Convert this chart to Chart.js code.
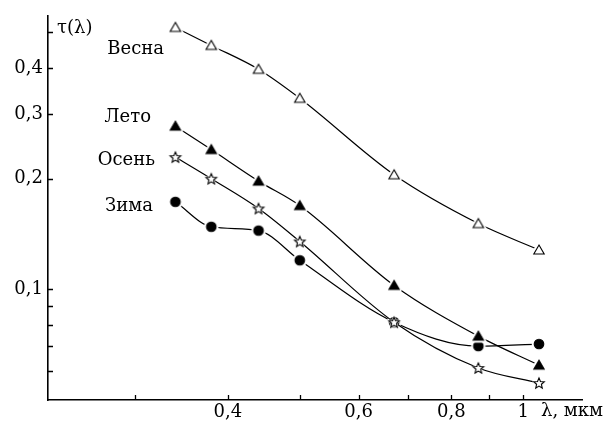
<!DOCTYPE html>
<html>
<head>
<meta charset="utf-8">
<script src="https://cdn.jsdelivr.net/npm/chart.js@4.4.1/dist/chart.umd.min.js"></script>
<style>
    html, body { margin: 0; padding: 0; background: #fff; }
    #wrap { width: 610px; height: 427px; position: relative; }
</style>
</head>
<body>
<div id="wrap"><canvas id="chart"></canvas></div>
<script>
// Данные графика
const wavelengths = [0.34, 0.38, 0.44, 0.50, 0.67, 0.87, 1.05];
const spring = [0.516, 0.461, 0.397, 0.331, 0.205, 0.151, 0.128];
const summer = [0.278, 0.240, 0.197, 0.169, 0.1025, 0.0746, 0.0622];
const autumn = [0.229, 0.200, 0.166, 0.135, 0.0814, 0.0611, 0.0556];
const winter = [0.173, 0.148, 0.1445, 0.120, 0.0814, 0.0701, 0.0710];

const xTicks = [0.3, 0.4, 0.5, 0.6, 0.7, 0.8, 0.9, 1.0];
const xLabels = { 0.4: '0,4', 0.6: '0,6', 0.8: '0,8', 1: '1' };
const yTicks = [0.06, 0.07, 0.08, 0.09, 0.1, 0.2, 0.3, 0.4, 0.5];
const yLabels = { 0.1: '0,1', 0.2: '0,2', 0.3: '0,3', 0.4: '0,4' };

const seriesNames = ['Весна', 'Лето', 'Осень', 'Зима'];

const FONT = '"DejaVu Serif", serif';

function toPoints(values) {
    return values.map((v, i) => ({ x: wavelengths[i], y: v }));
}

// Маркер на отдельном canvas, с белым ореолом (разрыв линии у точки)
function makeMarker(shape, filled, halo) {
    const size = 20;
    const c = document.createElement('canvas');
    c.width = size;
    c.height = size;
    const g = c.getContext('2d');
    const cx = size / 2, cy = size / 2;

    g.beginPath();
    if (shape === 'triangle') {
        const R = 6;
        const cy2 = cy + 1;
        for (let i = 0; i < 3; i++) {
            const a = -Math.PI / 2 + i * 2 * Math.PI / 3;
            g.lineTo(cx + R * Math.cos(a), cy2 + R * Math.sin(a));
        }
    } else if (shape === 'star') {
        const R = 5.6, r = R * 0.45;
        for (let i = 0; i < 10; i++) {
            const a = -Math.PI / 2 + i * Math.PI / 5;
            const rr = i % 2 ? r : R;
            g.lineTo(cx + rr * Math.cos(a), cy + 0.5 + rr * Math.sin(a));
        }
    } else {
        g.arc(cx, cy, 4.8, 0, Math.PI * 2);
    }
    g.closePath();

    // ореол
    g.lineJoin = 'round';
    g.strokeStyle = '#fff';
    g.lineWidth = halo;
    g.stroke();

    g.fillStyle = filled ? '#000' : '#fff';
    g.fill();
    g.lineJoin = 'miter';
    g.strokeStyle = '#000';
    g.lineWidth = 1.1;
    g.stroke();
    return c;
}

// Засечки внутрь и подписи
const decorPlugin = {
    id: 'decor',
    afterDraw(chart) {
        const ctx = chart.ctx;
        const xs = chart.scales.x, ys = chart.scales.y;
        const area = chart.chartArea;
        ctx.save();
        ctx.strokeStyle = '#000';
        ctx.lineWidth = 1.3;
        ctx.beginPath();
        xTicks.forEach(v => {
            const px = Math.round(xs.getPixelForValue(v)) + 0.5;
            ctx.moveTo(px, area.bottom);
            ctx.lineTo(px, area.bottom - 5);
        });
        yTicks.forEach(v => {
            const py = Math.round(ys.getPixelForValue(v)) + 0.5;
            ctx.moveTo(area.left, py);
            ctx.lineTo(area.left + 5, py);
        });
        ctx.stroke();

        ctx.fillStyle = '#000';
        ctx.font = '18px ' + FONT;
        ctx.textBaseline = 'middle';
        ctx.textAlign = 'left';
        ctx.fillText('τ(λ)', 57, 28);
        ctx.fillText('λ, мкм', 541, 411);

        ctx.textAlign = 'right';
        const labelPos = [[164, 49], [151, 117], [155, 160], [153, 206]];
        seriesNames.forEach((name, i) => {
            ctx.fillText(name, labelPos[i][0], labelPos[i][1]);
        });
        ctx.restore();
    }
};

const common = {
    borderColor: '#000',
    borderWidth: 1.2,
    cubicInterpolationMode: 'monotone',
    fill: false,
    pointRadius: 6
};

new Chart(document.getElementById('chart'), {
    type: 'line',
    data: {
        datasets: [
            Object.assign({}, common, {
                label: seriesNames[0],
                data: toPoints(spring),
                pointStyle: makeMarker('triangle', false, 5)
            }),
            Object.assign({}, common, {
                label: seriesNames[1],
                data: toPoints(summer),
                pointStyle: makeMarker('triangle', true, 5)
            }),
            Object.assign({}, common, {
                label: seriesNames[2],
                data: toPoints(autumn),
                pointStyle: makeMarker('star', false, 2.2)
            }),
            Object.assign({}, common, {
                label: seriesNames[3],
                data: toPoints(winter),
                pointStyle: makeMarker('circle', true, 5)
            })
        ]
    },
    options: {
        responsive: true,
        maintainAspectRatio: false,
        animation: false,
        layout: {
            padding: { top: 15, right: 28, left: 0, bottom: 0 }
        },
        scales: {
            x: {
                type: 'logarithmic',
                min: 0.229,
                max: 1.2,
                afterBuildTicks: scale => {
                    scale.ticks = xTicks.map(v => ({ value: v }));
                },
                afterFit: scale => {
                    scale.height = 27;
                },
                ticks: {
                    autoSkip: false,
                    maxRotation: 0,
                    padding: 2,
                    color: '#000',
                    font: { family: FONT, size: 18 },
                    callback: value => xLabels[Math.round(value * 10) / 10] || ''
                },
                grid: { display: false, drawTicks: false },
                border: { display: true, color: '#000', width: 1.6 }
            },
            y: {
                type: 'logarithmic',
                min: 0.05,
                max: 0.555,
                afterBuildTicks: scale => {
                    scale.ticks = yTicks.map(v => ({ value: v }));
                },
                afterFit: scale => {
                    scale.width = 48;
                },
                ticks: {
                    autoSkip: false,
                    padding: 5,
                    color: '#000',
                    font: { family: FONT, size: 18 },
                    callback: value => yLabels[Math.round(value * 100) / 100] || ''
                },
                grid: { display: false, drawTicks: false },
                border: { display: true, color: '#000', width: 1.6 }
            }
        },
        plugins: {
            legend: { display: false },
            tooltip: { enabled: false }
        }
    },
    plugins: [decorPlugin]
});
</script>
</body>
</html>
